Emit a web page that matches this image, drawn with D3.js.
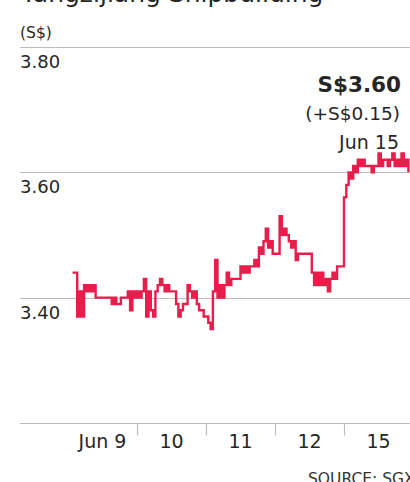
<!DOCTYPE html>
<html>
<head>
<meta charset="utf-8">
<script src="https://cdn.jsdelivr.net/npm/d3@7"></script>
<style>
  body { margin: 0; background: #fff; }
  svg text { font-family: "DejaVu Sans", sans-serif; fill: #262626; }
</style>
</head>
<body>
<div id="chart_wrapper"></div>
<script>
var days = ["Jun 9", "10", "11", "12", "15"];
var yTicks = [3.80, 3.60, 3.40];

// intraday prices, 30 slots per day (null = no trade yet)
var jun9 = [null, null, 3.44, 3.44, 3.37, 3.41, 3.37, 3.42, 3.41, 3.42, 3.41, 3.42, 3.40, 3.40, 3.40,
    3.40, 3.40, 3.40, 3.40, 3.39, 3.40, 3.39, 3.39, 3.40, 3.40, 3.40, 3.41, 3.38, 3.41, 3.40];
var jun10 = [3.41, 3.40, 3.41, 3.43, 3.37, 3.41, 3.38, 3.37, 3.41, 3.42, 3.43, 3.42, 3.41, 3.42, 3.41,
    3.41, 3.41, 3.39, 3.37, 3.38, 3.39, 3.39, 3.42, 3.41, 3.40, 3.41, 3.39, 3.38, 3.38, 3.37];
var jun11 = [3.37, 3.36, 3.35, 3.41, 3.46, 3.40, 3.42, 3.40, 3.42, 3.44, 3.42, 3.43, 3.43, 3.43, 3.43,
    3.45, 3.44, 3.45, 3.44, 3.45, 3.45, 3.46, 3.45, 3.48, 3.47, 3.49, 3.51, 3.48, 3.49, 3.47];
var jun12 = [3.47, 3.47, 3.53, 3.50, 3.51, 3.50, 3.49, 3.48, 3.49, 3.46, 3.47, 3.47, 3.47, 3.47, 3.47,
    3.47, 3.44, 3.42, 3.44, 3.42, 3.44, 3.42, 3.43, 3.41, 3.43, 3.44, 3.43, 3.45, 3.45, 3.45];
var jun15 = [3.56, 3.58, 3.60, 3.59, 3.61, 3.60, 3.62, 3.61, 3.62, 3.61, 3.61, 3.61, 3.60, 3.61, 3.61,
    3.63, 3.61, 3.62, 3.62, 3.61, 3.62, 3.63, 3.61, 3.62, 3.61, 3.63, 3.61, 3.62, 3.60, null];

var lastPrice = "S$3.60";
var change = "(+S$0.15)";
var lastDate = "Jun 15";

var width = 410, height = 482,
    margin = { left: 20, right: 0, top: 47, bottom: 59 };

var svg = d3.select("#chart_wrapper").append("svg")
    .attr("width", width).attr("height", height);

var slots = jun9.length;
var data = [];
[jun9, jun10, jun11, jun12, jun15].forEach(function(arr, i) {
    arr.forEach(function(p, j) {
        data.push({ t: i + j / slots, price: p });
    });
});

var x = d3.scaleLinear().domain([0, days.length]).range([68, 413]);
var band = d3.scaleBand().domain(days).range([68, 413]);
var y = d3.scaleLinear().domain([3.20, 3.80]).range([height - margin.bottom, margin.top]);

// title (cut off at top in the original)
svg.append("text").attr("x", 21).attr("y", 2)
    .style("font-size", "25px").text("Yangzijiang Shipbuilding");

svg.append("text").attr("x", 20).attr("y", 38)
    .style("font-size", "15.5px").text("(S$)");

// grid lines + y labels
yTicks.forEach(function(v) {
    svg.append("line").attr("x1", 20).attr("x2", width)
        .attr("y1", Math.round(y(v)) + 0.5).attr("y2", Math.round(y(v)) + 0.5)
        .attr("stroke", "#bdbdbd").attr("stroke-width", 1.2);
    svg.append("text").attr("x", 20).attr("y", y(v) + 21)
        .style("font-size", "18px").text(v.toFixed(2));
});

// x axis
var axisY = Math.round(y(3.20)) + 0.5;
svg.append("line").attr("x1", 20).attr("x2", width)
    .attr("y1", axisY).attr("y2", axisY)
    .attr("stroke", "#bdbdbd").attr("stroke-width", 1.2);

svg.selectAll(".tick").data(days.slice(1)).enter().append("line")
    .attr("x1", (d) => Math.round(band(d)) + 0.5).attr("x2", (d) => Math.round(band(d)) + 0.5)
    .attr("y1", axisY).attr("y2", axisY + 12)
    .attr("stroke", "#bdbdbd").attr("stroke-width", 1.2);

svg.selectAll(".daylabel").data(days).enter().append("text")
    .attr("x", (d) => band(d) + band.bandwidth() / 2)
    .attr("y", axisY + 24)
    .attr("text-anchor", "middle")
    .style("font-size", "19px")
    .text((d) => d);

// price line
var line = d3.line()
    .defined((d) => d.price !== null)
    .x((d) => x(d.t))
    .y((d) => y(d.price))
    .curve(d3.curveStepAfter);

svg.append("path").datum(data)
    .attr("d", line)
    .attr("fill", "none")
    .attr("stroke", "#e91d4c")
    .attr("stroke-width", 2.4);

// last price annotation
svg.append("text").attr("x", 401).attr("y", 92).attr("text-anchor", "end")
    .style("font-size", "21.5px").style("font-weight", "bold").text(lastPrice);
svg.append("text").attr("x", 400).attr("y", 120).attr("text-anchor", "end")
    .style("font-size", "18.5px").text(change);
svg.append("text").attr("x", 399).attr("y", 149).attr("text-anchor", "end")
    .style("font-size", "19px").text(lastDate);

svg.append("text").attr("x", 308).attr("y", 484)
    .style("font-size", "15.5px").style("fill", "#333").text("SOURCE: SGX");
</script>
</body>
</html>
